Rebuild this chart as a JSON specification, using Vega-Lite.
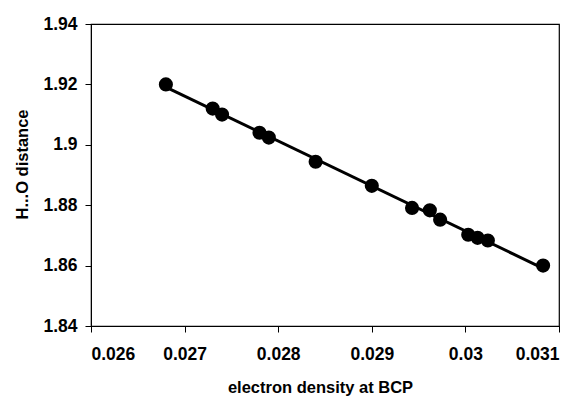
{
  "$schema": "https://vega.github.io/schema/vega-lite/v6.json",
  "width": 468,
  "height": 302,
  "autosize": {"type": "none"},
  "padding": {"left": 91, "top": 24, "right": 28, "bottom": 74},
  "background": "white",
  "config": {
    "view": {"stroke": "black", "strokeWidth": 1.2},
    "font": "Liberation Sans",
    "axis": {
      "grid": false,
      "domainColor": "black",
      "tickColor": "black",
      "tickSize": 6,
      "labelFont": "Liberation Sans",
      "labelFontWeight": "bold",
      "labelFontSize": 17.5,
      "labelColor": "black",
      "titleFont": "Liberation Sans",
      "titleFontWeight": "bold",
      "titleFontSize": 16.5,
      "titleColor": "black"
    }
  },
  "data": {
    "values": [
      {"x": 0.0268, "y": 1.920},
      {"x": 0.0273, "y": 1.912},
      {"x": 0.0274, "y": 1.910},
      {"x": 0.0278, "y": 1.904},
      {"x": 0.0279, "y": 1.9024},
      {"x": 0.0284, "y": 1.8944},
      {"x": 0.0290, "y": 1.8864},
      {"x": 0.02943, "y": 1.8791},
      {"x": 0.02962, "y": 1.8783},
      {"x": 0.02973, "y": 1.8752},
      {"x": 0.03003, "y": 1.8702},
      {"x": 0.03013, "y": 1.8692},
      {"x": 0.03024, "y": 1.8683},
      {"x": 0.03083, "y": 1.860}
    ]
  },
  "layer": [
    {
      "transform": [{"regression": "y", "on": "x", "extent": [0.0268, 0.03083]}],
      "mark": {"type": "line", "color": "black", "strokeWidth": 3},
      "encoding": {
        "x": {"field": "x", "type": "quantitative"},
        "y": {"field": "y", "type": "quantitative"}
      }
    },
    {
      "mark": {"type": "point", "filled": true, "color": "black", "opacity": 1, "size": 200},
      "encoding": {
        "x": {
          "field": "x", "type": "quantitative",
          "scale": {"domain": [0.026, 0.031], "nice": false, "zero": false},
          "axis": {"values": [0.026, 0.027, 0.028, 0.029, 0.03, 0.031], "format": "~r", "labelPadding": 13, "title": "electron density at BCP", "titlePadding": 17, "titleX": 229}
        },
        "y": {
          "field": "y", "type": "quantitative",
          "scale": {"domain": [1.84, 1.94], "nice": false, "zero": false},
          "axis": {"values": [1.84, 1.86, 1.88, 1.9, 1.92, 1.94], "format": "~r", "labelPadding": 8, "title": "H...O distance", "titlePadding": 12, "titleY": 140}
        }
      }
    }
  ]
}
